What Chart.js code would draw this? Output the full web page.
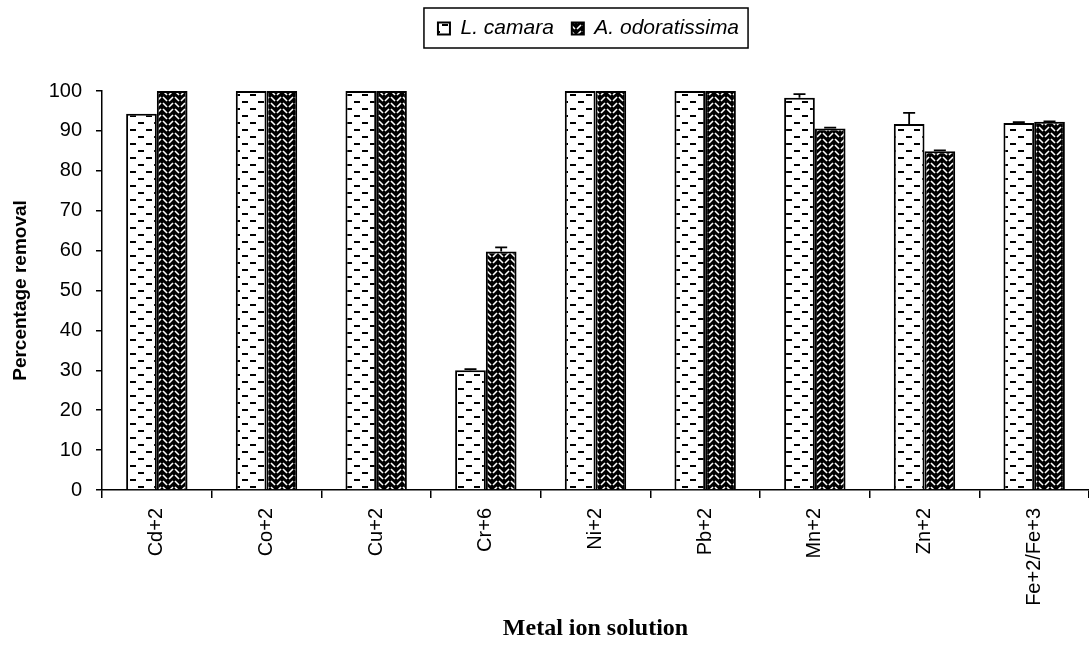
<!DOCTYPE html>
<html>
<head>
<meta charset="utf-8">
<script src="https://cdn.jsdelivr.net/npm/chart.js@4.4.1/dist/chart.umd.min.js"></script>
<style>
  html, body { margin: 0; padding: 0; background: #fff; }
  #wrap { width: 1089px; height: 647px; position: relative; }
</style>
</head>
<body>
<div id="wrap"><canvas id="c" width="1089" height="647"></canvas></div>
<script>
const categories = ['Cd+2', 'Co+2', 'Cu+2', 'Cr+6', 'Ni+2', 'Pb+2', 'Mn+2', 'Zn+2', 'Fe+2/Fe+3'];
const seriesNames = ['L. camara', 'A. odoratissima'];
const lCamara = [94.3, 100, 100, 30.0, 100, 100, 98.3, 91.7, 92.0];
const aOdoratissima = [100, 100, 100, 59.8, 100, 100, 90.6, 84.9, 92.3];
const lCamaraErr = [0, 0, 0, 0.3, 0, 0, 0.9, 2.8, 0.2];
const aOdoratissimaErr = [0, 0, 0, 1.0, 0, 0, 0.2, 0.2, 0.1];
const yTicks = [0, 10, 20, 30, 40, 50, 60, 70, 80, 90, 100];

function makeDashPattern() {
  const c = document.createElement('canvas');
  c.width = 16; c.height = 14;
  const g = c.getContext('2d');
  g.fillStyle = '#fff'; g.fillRect(0, 0, 16, 14);
  g.fillStyle = '#000';
  g.fillRect(2, 3, 6, 2);
  g.fillRect(10, 10, 6, 2);
  return g.createPattern(c, 'repeat');
}
function makeWeavePattern() {
  const c = document.createElement('canvas');
  c.width = 12; c.height = 12;
  const g = c.getContext('2d');
  g.fillStyle = '#000'; g.fillRect(0, 0, 12, 12);
  g.strokeStyle = '#fff'; g.lineWidth = 1.6; g.lineCap = 'butt';
  g.beginPath();
  g.moveTo(1, 5); g.lineTo(5, 1);
  g.moveTo(1, 11); g.lineTo(5, 7);
  g.moveTo(7, 1); g.lineTo(11, 5);
  g.moveTo(7, 7); g.lineTo(11, 11);
  g.stroke();
  return g.createPattern(c, 'repeat');
}
const patL = makeDashPattern();
const patA = makeWeavePattern();

const errorBars = {
  id: 'errorBars',
  afterDatasetsDraw(chart) {
    const ctx = chart.ctx;
    const ys = chart.scales.y;
    const errs = [lCamaraErr, aOdoratissimaErr];
    ctx.save();
    ctx.strokeStyle = '#000';
    ctx.lineWidth = 1.8;
    chart.data.datasets.forEach((ds, i) => {
      const meta = chart.getDatasetMeta(i);
      meta.data.forEach((el, j) => {
        const e = errs[i][j];
        if (!e) return;
        const top = ys.getPixelForValue(ds.data[j] + e);
        ctx.beginPath();
        ctx.moveTo(el.x, el.y);
        ctx.lineTo(el.x, top);
        ctx.moveTo(el.x - 6, top);
        ctx.lineTo(el.x + 6, top);
        ctx.stroke();
      });
    });
    ctx.restore();
  }
};

const LEGEND_SHIFT = 44;
const legendBorder = {
  id: 'legendBorder',
  beforeInit(chart) {
    const origFit = chart.legend.fit;
    chart.legend.fit = function () {
      origFit.call(this);
      this.height = 91;
    };
  },
  afterLayout(chart) {
    chart.legend.left += LEGEND_SHIFT;
    chart.legend.right += LEGEND_SHIFT;
  },
  afterDraw(chart) {
    const hb = chart.legend.legendHitBoxes;
    if (!hb || !hb.length) return;
    const first = hb[0], last = hb[hb.length - 1];
    const ctx = chart.ctx;
    ctx.save();
    ctx.strokeStyle = '#000';
    ctx.lineWidth = 1.5;
    const l = first.left - 14, r = last.left + last.width + 9;
    const t = first.top - 10, b = first.top + first.height + 9;
    ctx.strokeRect(l, t, r - l, b - t);
    ctx.restore();
  }
};

new Chart(document.getElementById('c'), {
  type: 'bar',
  data: {
    labels: categories,
    datasets: [
      { label: seriesNames[0], data: lCamara, backgroundColor: patL, borderColor: '#000', borderWidth: 2 },
      { label: seriesNames[1], data: aOdoratissima, backgroundColor: patA, borderColor: '#000', borderWidth: 2 }
    ]
  },
  options: {
    responsive: false,
    animation: false,
    devicePixelRatio: 1,
    layout: { padding: { top: 0, left: 0, right: 0, bottom: 0 } },
    datasets: { bar: { categoryPercentage: 0.56, barPercentage: 1.0 } },
    plugins: {
      legend: {
        position: 'top',
        align: 'center',
        labels: {
          boxWidth: 12, boxHeight: 12, padding: 18,
          color: '#000',
          font: { family: 'Arial, "Liberation Sans", sans-serif', size: 21, style: 'italic' }
        }
      },
      tooltip: { enabled: false }
    },
    scales: {
      x: {
        type: 'category',
        offset: true,
        grid: { offset: true, drawOnChartArea: false, tickLength: 8, color: '#000', lineWidth: 1.5 },
        border: { color: '#000', width: 1.5 },
        ticks: {
          minRotation: 90, maxRotation: 90, padding: 10, color: '#000', autoSkip: false,
          font: { family: 'Arial, "Liberation Sans", sans-serif', size: 20 }
        },
        title: {
          display: true, text: 'Metal ion solution', color: '#000',
          font: { family: '"Times New Roman", "Liberation Serif", serif', size: 24, weight: 'bold' },
          padding: { top: 0, bottom: 4 }
        },
        afterFit(s) { s.height = 157; }
      },
      y: {
        min: 0, max: 100,
        afterBuildTicks(s) { s.ticks = yTicks.map(v => ({ value: v })); },
        grid: { drawOnChartArea: false, tickLength: 6, color: '#000', lineWidth: 1.5 },
        border: { color: '#000', width: 1.5 },
        ticks: {
          padding: 14, color: '#000',
          font: { family: 'Arial, "Liberation Sans", sans-serif', size: 20 }
        },
        title: {
          display: true, text: 'Percentage removal', color: '#000',
          font: { family: 'Arial, "Liberation Sans", sans-serif', size: 19, weight: 'bold' },
          padding: { top: 9, bottom: 0 }
        },
        afterFit(s) { s.width = 102; }
      }
    }
  },
  plugins: [errorBars, legendBorder]
});
</script>
</body>
</html>
